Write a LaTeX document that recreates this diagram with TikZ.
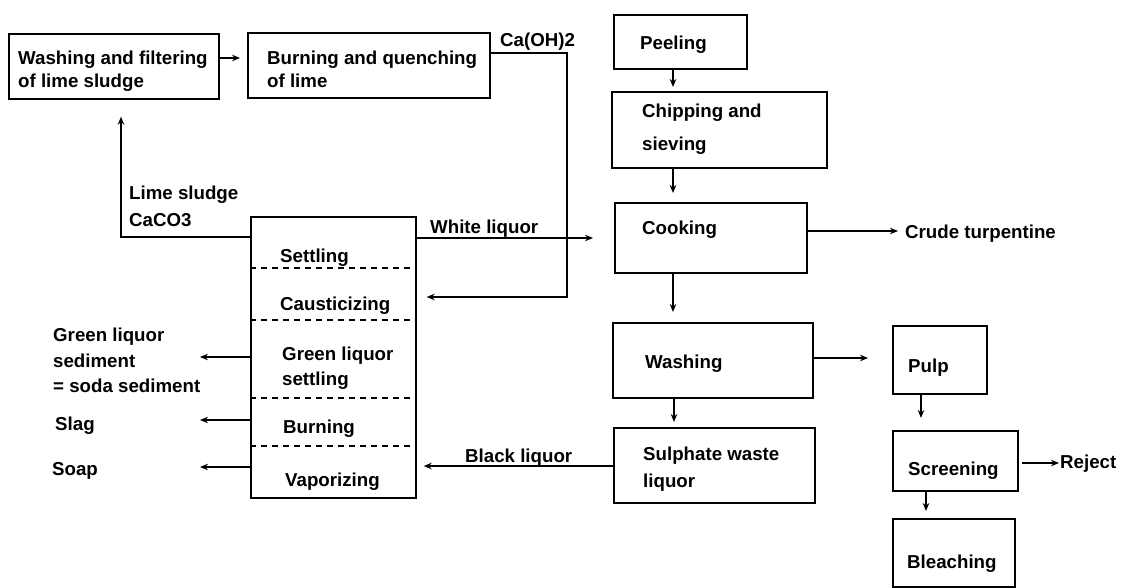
\documentclass[tikz,border=0pt]{standalone}
\usepackage{fontspec}
\newfontfamily\diagfont{Liberation Sans Bold}
\usetikzlibrary{arrows.meta}
\tikzset{
  box/.style={draw, line width=1.7pt, inner sep=0pt, anchor=north west},
  lbl/.style={inner sep=0pt, anchor=base west, font=\diagfont\fontsize{18.7}{23}\selectfont},
  flow/.style={line width=1.5pt, -{Stealth[length=8pt,width=6.5pt]}},
  sep/.style={line width=1.3pt, dash pattern=on 6pt off 5pt},
}
\begin{document}
\begin{tikzpicture}[x=1pt,y=-1pt]
\useasboundingbox (0,0) rectangle (1123,588);

% ---- process boxes ----
\node[box, minimum width=210pt, minimum height=65pt] (lime)   at (8,33)    {};
\node[box, minimum width=242pt, minimum height=65pt] (burn)   at (247,32)  {};
\node[box, minimum width=133pt, minimum height=54pt] (peel)   at (613,14)  {};
\node[box, minimum width=215pt, minimum height=76pt] (chip)   at (611,91)  {};
\node[box, minimum width=192pt, minimum height=70pt] (cook)   at (614,202) {};
\node[box, minimum width=200pt, minimum height=75pt] (wash)   at (612,322) {};
\node[box, minimum width=201pt, minimum height=75pt] (sulph)  at (613,427) {};
\node[box, minimum width=94pt,  minimum height=68pt] (pulp)   at (892,325) {};
\node[box, minimum width=125pt, minimum height=60pt] (screen) at (892,430) {};
\node[box, minimum width=122pt, minimum height=68pt] (bleach) at (892,518) {};
\node[box, minimum width=165pt, minimum height=281pt] (recov) at (250,216) {};

% stages of the recovery column
\draw[sep] (recov.west |- 0,268) -- (recov.east |- 0,268);
\draw[sep] (recov.west |- 0,320) -- (recov.east |- 0,320);
\draw[sep] (recov.west |- 0,398) -- (recov.east |- 0,398);
\draw[sep] (recov.west |- 0,446) -- (recov.east |- 0,446);

% ---- box texts ----
\node[lbl] (limeA)   at (18,65)   {Washing and filtering};
\node[lbl] (limeB)   at (18,88)   {of lime sludge};
\node[lbl] (burnA)   at (267,65)  {Burning and quenching};
\node[lbl] (burnB)   at (267,88)  {of lime};
\node[lbl] (peelT)   at (640,50)  {Peeling};
\node[lbl] (chipA)   at (642,118) {Chipping and};
\node[lbl] (chipB)   at (642,151) {sieving};
\node[lbl] (cookT)   at (642,234) {Cooking};
\node[lbl] (washT)   at (645,368) {Washing};
\node[lbl] (sulphA)  at (643,460) {Sulphate waste};
\node[lbl] (sulphB)  at (643,487) {liquor};
\node[lbl] (pulpT)   at (908,372) {Pulp};
\node[lbl] (screenT) at (908,475) {Screening};
\node[lbl] (bleachT) at (907,568) {Bleaching};
\node[lbl] (settT)   at (280,262) {Settling};
\node[lbl] (causT)   at (280,310) {Causticizing};
\node[lbl] (greenA)  at (282,360) {Green liquor};
\node[lbl] (greenB)  at (282,385) {settling};
\node[lbl] (burnT)   at (283,433) {Burning};
\node[lbl] (vapT)    at (285,486) {Vaporizing};

% ---- stream labels ----
\node[lbl] (sludgeA) at (129,200) {Lime sludge};
\node[lbl] (sludgeB) at (129,226) {CaCO3};
\node[lbl] (caoh)    at (500,47)  {Ca(OH)2};
\node[lbl] (white)   at (430,233) {White liquor};
\node[lbl] (black)   at (465,462) {Black liquor};
\node[lbl] (crude)   at (905,238) {Crude turpentine};
\node[lbl] (reject)  at (1060,468) {Reject};
\node[lbl] (gsedA)   at (53,341)  {Green liquor};
\node[lbl] (gsedB)   at (53,367)  {sediment};
\node[lbl] (gsedC)   at (53,392)  {= soda sediment};
\node[lbl] (slag)    at (55,430)  {Slag};
\node[lbl] (soap)    at (52,475)  {Soap};

% ---- free ends of the outlet arrows ----
\coordinate (gout)  at (200,357);
\coordinate (sout)  at (200,420);
\coordinate (soout) at (200,467);
\coordinate (cturn) at (567,297);

% ---- connectors ----
\draw[flow, shorten >=7pt] (lime.east |- 0,58) -- (burn.west |- 0,58);
\draw[flow, shorten >=10pt] (burn.east |- 0,53) -| (cturn) -- (recov.east |- cturn);
\draw[flow, shorten >=17pt] (recov.west |- 0,237) -| (lime.south -| 121,0);
\draw[flow, shorten >=21pt] (recov.east |- 0,238) -- (cook.west |- 0,238);
\draw[flow, shorten >=4pt]  (peel.south -| 673,0) -- (chip.north -| 673,0);
\draw[flow, shorten >=9pt]  (chip.south -| 673,0) -- (cook.north -| 673,0);
\draw[flow, shorten >=7pt]  (cook.east |- 0,231) -- (crude.west |- 0,231);
\draw[flow, shorten >=10pt] (cook.south -| 673,0) -- (wash.north -| 673,0);
\draw[flow, shorten >=5pt]  (wash.south -| 674,0) -- (sulph.north -| 674,0);
\draw[flow, shorten >=24pt] (wash.east |- 0,358) -- (pulp.west |- 0,358);
\draw[flow, shorten >=12pt] (pulp.south -| 921,0) -- (screen.north -| 921,0);
\draw[flow, shorten <=3pt, shorten >=1pt] (screen.east |- 0,463) -- (reject.west |- 0,463);
\draw[flow, shorten >=7pt]  (screen.south -| 926,0) -- (bleach.north -| 926,0);
\draw[flow, shorten >=7pt]  (sulph.west |- 0,466) -- (recov.east |- 0,466);
\draw[flow] (recov.west |- gout) -- (gout);
\draw[flow] (recov.west |- sout) -- (sout);
\draw[flow] (recov.west |- soout) -- (soout);
\end{tikzpicture}
\end{document}
